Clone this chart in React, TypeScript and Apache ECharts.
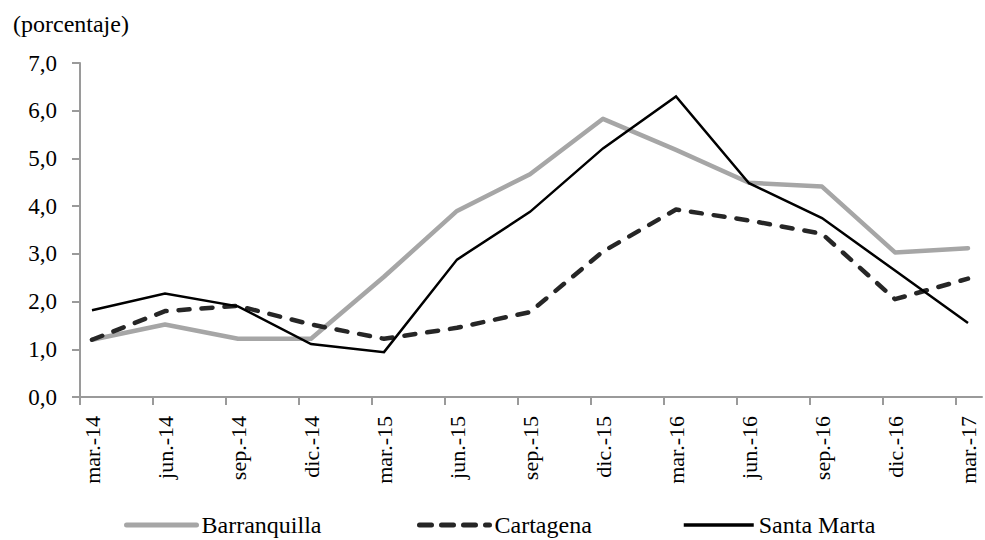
import React, { useEffect, useRef } from "react";
import * as echarts from "echarts";

const categories = ["mar.-14", "jun.-14", "sep.-14", "dic.-14", "mar.-15", "jun.-15", "sep.-15", "dic.-15", "mar.-16", "jun.-16", "sep.-16", "dic.-16", "mar.-17"];
const barranquilla = [1.2, 1.52, 1.22, 1.22, 2.52, 3.9, 4.67, 5.83, 5.18, 4.49, 4.41, 3.03, 3.12];
const cartagena = [1.2, 1.8, 1.91, 1.52, 1.22, 1.45, 1.78, 3.05, 3.93, 3.7, 3.42, 2.05, 2.48];
const santaMarta = [1.82, 2.17, 1.9, 1.11, 0.94, 2.88, 3.88, 5.21, 6.3, 4.48, 3.75, 2.65, 1.55];
const yTicks = [0, 1, 2, 3, 4, 5, 6, 7];

const FONT = "Liberation Serif";
const AXIS_COLOR = "#9a9a9a";

export default function App() {
  const ref = useRef<HTMLDivElement>(null);
  useEffect(() => {
    if (!ref.current) return;
    const chart = echarts.init(ref.current, null, { renderer: "svg" });
    const offset = 12 / 73;
    const idx = categories.map((_, i) => i);
    const tickVals = categories.map((_, i) => i - offset);
    const toPairs = (arr: number[]) => arr.map((v, i) => [i, v]);
    const legendBase = {
      top: 508,
      itemWidth: 70,
      itemHeight: 14,
      itemGap: 5,
      itemStyle: { opacity: 0 },
      textStyle: { fontFamily: FONT, fontSize: 24, color: "#000" },
    };
    chart.setOption({
      animation: false,
      backgroundColor: "#fff",
      title: {
        text: "(porcentaje)",
        left: 8,
        top: 7,
        textStyle: { fontFamily: FONT, fontSize: 24, fontWeight: "normal", color: "#000" },
      },
      legend: [
        { ...legendBase, left: 119, data: ["Barranquilla"], lineStyle: { width: 5, cap: "round" } },
        { ...legendBase, left: 412, data: ["Cartagena"], lineStyle: { width: 5, type: [12, 10], cap: "round" } },
        { ...legendBase, left: 677, data: ["Santa Marta"], lineStyle: { width: 3.5 } },
      ],
      grid: { left: 80, right: 3, top: 63, bottom: 143, containLabel: false },
      xAxis: {
        type: "value",
        min: -offset,
        max: 12 + 14 / 73,
        axisLine: { show: true, onZero: false, lineStyle: { color: AXIS_COLOR, width: 2 } },
        axisTick: { show: true, length: 8, customValues: tickVals, lineStyle: { color: AXIS_COLOR, width: 2 } },
        axisLabel: {
          customValues: idx,
          rotate: 90,
          margin: 19,
          fontFamily: FONT,
          fontSize: 22,
          color: "#000",
          formatter: (v: number) => categories[Math.round(v)] ?? "",
        },
        splitLine: { show: false },
      },
      yAxis: {
        type: "value",
        min: yTicks[0],
        max: yTicks[yTicks.length - 1],
        interval: 1,
        axisLine: { show: true, onZero: false, lineStyle: { color: AXIS_COLOR, width: 2 } },
        axisTick: { show: true, length: 8, lineStyle: { color: AXIS_COLOR, width: 2 } },
        axisLabel: {
          margin: 23,
          fontFamily: FONT,
          fontSize: 23,
          color: "#000",
          formatter: (v: number) => v.toFixed(1).replace(".", ","),
        },
        splitLine: { show: false },
      },
      series: [
        {
          name: "Barranquilla",
          type: "line",
          data: toPairs(barranquilla),
          symbol: "none",
          color: "#a6a6a6",
          lineStyle: { color: "#a6a6a6", width: 4.5, cap: "round", join: "round" },
        },
        {
          name: "Cartagena",
          type: "line",
          data: toPairs(cartagena),
          symbol: "none",
          color: "#262626",
          lineStyle: { color: "#262626", width: 4.5, type: [11, 12], cap: "round", join: "round" },
        },
        {
          name: "Santa Marta",
          type: "line",
          data: toPairs(santaMarta),
          symbol: "none",
          color: "#000",
          lineStyle: { color: "#000", width: 2.5, join: "miter" },
        },
      ],
    });
    return () => chart.dispose();
  }, []);
  return <div ref={ref} style={{ width: 985, height: 540, position: "absolute", left: 0, top: 0 }} />;
}
